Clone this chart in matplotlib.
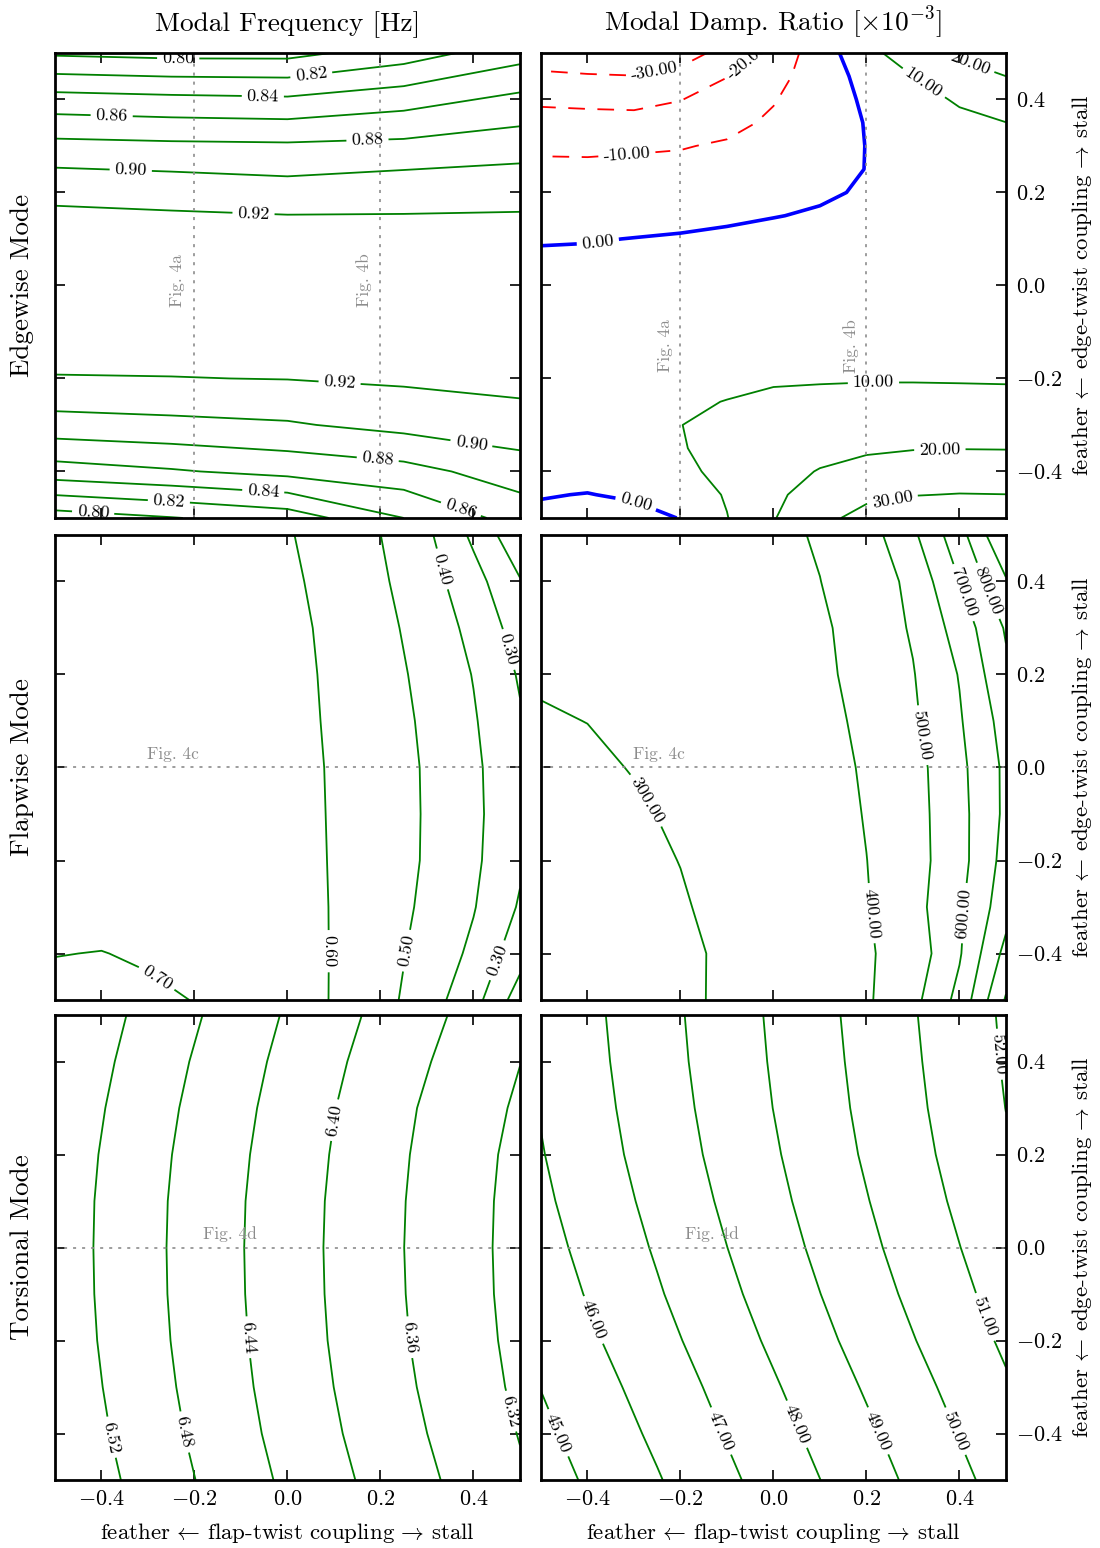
import numpy as np
import matplotlib
matplotlib.use("Agg")
import matplotlib.pyplot as plt

plt.rcParams['font.family'] = 'serif'
plt.rcParams['font.serif'] = ['cmr10']
plt.rcParams['mathtext.fontset'] = 'cm'
plt.rcParams['axes.formatter.use_mathtext'] = True
plt.rcParams['axes.unicode_minus'] = True
plt.rcParams['lines.scale_dashes'] = False
plt.rcParams['lines.dashed_pattern'] = [12.0, 9.0]

# grids (coupling coefficients)
x5 = [-0.5, -0.25, 0.0, 0.25, 0.5]
x11 = [-0.5, -0.4, -0.3, -0.2, -0.1, 0.0, 0.1, 0.2, 0.3, 0.4, 0.5]
y11 = [-0.5, -0.4, -0.3, -0.2, -0.1, 0.0, 0.1, 0.2, 0.3, 0.4, 0.5]
y18 = [-0.5, -0.45, -0.4, -0.35, -0.3, -0.25, -0.2, -0.1, 0.0, 0.1,
       0.15, 0.2, 0.25, 0.3, 0.35, 0.4, 0.45, 0.5]

# edgewise mode, frequency [Hz]  (rows = y11, cols = x5)
edge_freq = [
    [0.790, 0.799, 0.809, 0.840, 0.868],
    [0.851, 0.858, 0.866, 0.873, 0.890],
    [0.892, 0.895, 0.898, 0.906, 0.912],
    [0.919, 0.9195, 0.9205, 0.923, 0.926],
    [0.931, 0.931, 0.932, 0.931, 0.929],
    [0.934, 0.935, 0.936, 0.932, 0.931],
    [0.930, 0.931, 0.932, 0.927, 0.927],
    [0.916, 0.913, 0.909, 0.914, 0.915],
    [0.886, 0.884, 0.883, 0.885, 0.891],
    [0.848, 0.845, 0.843, 0.852, 0.865],
    [0.797, 0.794, 0.794, 0.810, 0.832],
]
edge_freq_levels = [0.80, 0.82, 0.84, 0.86, 0.88, 0.90, 0.92]

# edgewise mode, damping ratio [1e-3]  (rows = y18, cols = x11)
edge_damp = [
    [-2.0, -4.3, -3.3, 0.3, 9.7, 19.5, 27.5, 33.0, 36.0, 35.5, 35.0],
    [0.5, -0.3, 1.3, 4.5, 10.8, 18.0, 24.5, 28.0, 29.7, 30.3, 30.1],
    [3.0, 3.5, 5.0, 8.0, 12.4, 16.6, 20.5, 22.4, 24.4, 24.6, 24.6],
    [5.2, 5.6, 6.8, 9.7, 11.6, 14.6, 17.0, 19.0, 19.6, 19.8, 19.7],
    [6.5, 7.0, 8.0, 9.95, 11.0, 12.8, 14.0, 15.4, 15.0, 15.0, 14.8],
    [6.7, 7.1, 7.9, 9.4, 10.1, 11.2, 11.8, 12.4, 12.4, 12.3, 12.1],
    [6.5, 7.0, 7.5, 8.3, 9.0, 9.3, 9.4, 9.5, 9.5, 9.4, 9.3],
    [5.5, 6.0, 6.5, 7.0, 7.8, 8.3, 8.5, 8.6, 8.6, 8.6, 8.4],
    [3.5, 3.8, 4.2, 4.6, 5.2, 5.7, 6.0, 6.3, 6.6, 7.0, 7.3],
    [-0.6, -0.4, 0.15, 0.7, 1.4, 1.9, 2.0, 3.5, 4.5, 5.0, 5.2],
    [-3.2, -3.0, -2.6, -2.1, -1.2, -0.2, 0.6, 2.0, 3.7, 4.5, 5.1],
    [-5.8, -5.6, -4.5, -4.9, -3.8, -2.3, -0.8, 0.6, 3.0, 4.0, 5.0],
    [-8.5, -8.6, -8.1, -7.7, -6.4, -4.4, -1.8, 0.1, 2.5, 4.0, 5.2],
    [-11.2, -11.3, -11.0, -10.5, -9.0, -6.4, -2.7, 0.1, 2.0, 4.0, 5.5],
    [-16.8, -17.1, -17.1, -15.6, -12.5, -8.5, -3.5, 0.3, 3.9, 7.4, 9.9],
    [-21.5, -22.0, -22.5, -20.3, -15.5, -10.6, -4.3, 1.2, 5.9, 11.3, 14.9],
    [-28.4, -29.3, -29.8, -27.2, -20.3, -13.2, -5.0, 3.0, 10.0, 15.0, 20.0],
    [-35.3, -36.5, -37.0, -34.0, -27.0, -16.0, -5.2, 7.2, 15.2, 22.0, 27.0],
]
edge_damp_levels = [-30, -20, -10, 0, 10, 20, 30]

# flapwise mode, frequency [Hz]  (rows = y11, cols = x11)
flap_freq = [
    [0.712, 0.713, 0.708, 0.699, 0.675, 0.645, 0.594, 0.536, 0.444, 0.338, 0.150],
    [0.699, 0.701, 0.695, 0.683, 0.665, 0.640, 0.595, 0.537, 0.469, 0.379, 0.240],
    [0.687, 0.684, 0.678, 0.668, 0.655, 0.637, 0.595, 0.542, 0.484, 0.406, 0.290],
    [0.675, 0.670, 0.664, 0.657, 0.647, 0.634, 0.594, 0.544, 0.492, 0.419, 0.315],
    [0.667, 0.663, 0.658, 0.652, 0.643, 0.632, 0.593, 0.544, 0.493, 0.423, 0.322],
    [0.660, 0.657, 0.653, 0.648, 0.640, 0.630, 0.592, 0.543, 0.492, 0.420, 0.320],
    [0.655, 0.653, 0.650, 0.645, 0.638, 0.627, 0.589, 0.540, 0.486, 0.409, 0.310],
    [0.650, 0.649, 0.647, 0.642, 0.635, 0.627, 0.585, 0.535, 0.476, 0.396, 0.290],
    [0.645, 0.644, 0.642, 0.638, 0.631, 0.625, 0.579, 0.527, 0.461, 0.373, 0.256],
    [0.640, 0.639, 0.637, 0.633, 0.626, 0.618, 0.568, 0.514, 0.441, 0.338, 0.207],
    [0.635, 0.634, 0.632, 0.628, 0.621, 0.6075, 0.558, 0.5006, 0.419, 0.280, 0.123],
]
flap_freq_levels = [0.20, 0.30, 0.40, 0.50, 0.60, 0.70]

# flapwise mode, damping ratio [1e-3]  (rows = y11, cols = x11)
flap_damp = [
    [258, 264, 274, 288, 310, 330, 350, 388, 470, 630, 910],
    [262, 268, 277, 290, 308, 330, 352, 390, 440, 590, 830],
    [266, 272, 281, 295, 315, 332, 353, 394, 465, 582, 760],
    [272, 278, 287, 301, 317, 333, 355, 399, 460, 565, 735],
    [280, 285, 294, 307, 320, 335, 357, 405, 462, 568, 720],
    [288, 292, 302, 311, 322, 337, 360, 412, 465, 575, 720],
    [296, 300.5, 307, 315, 326, 342, 365, 425, 485, 590, 740],
    [305, 310, 316, 324, 335, 350, 377, 437, 495, 605, 780],
    [310, 316, 323, 331, 342, 358, 385, 440, 510, 640, 810],
    [320, 326, 333, 341, 352, 368, 399, 441, 525, 700, 890],
    [330, 335, 342, 350, 362, 380, 408, 455, 581, 762, 1000],
]
flap_damp_levels = [300, 400, 500, 600, 700, 800, 900]

# torsional mode, frequency [Hz]  (rows = y11, cols = x5)
tors_freq = [
    [6.556, 6.4925, 6.4328, 6.3766, 6.3244],
    [6.550, 6.4868, 6.4267, 6.3705, 6.3185],
    [6.546, 6.4826, 6.4225, 6.3659, 6.3133],
    [6.543, 6.4796, 6.4197, 6.3626, 6.3101],
    [6.5415, 6.4779, 6.4183, 6.3609, 6.3082],
    [6.541, 6.4774, 6.4178, 6.3602, 6.3076],
    [6.5415, 6.4781, 6.4185, 6.3609, 6.3082],
    [6.5436, 6.4804, 6.4208, 6.3628, 6.3101],
    [6.5474, 6.4841, 6.4244, 6.3659, 6.3145],
    [6.5525, 6.4893, 6.4295, 6.3722, 6.3206],
    [6.558, 6.4962, 6.4361, 6.3797, 6.3276],
]
tors_freq_levels = [6.32, 6.36, 6.40, 6.44, 6.48, 6.52]

# torsional mode, damping ratio [1e-3]  (rows = y11, cols = x5)
tors_damp = [
    [44.56, 45.93, 47.40, 48.88, 50.39],
    [44.79, 46.18, 47.65, 49.13, 50.64],
    [45.02, 46.42, 47.90, 49.39, 50.89],
    [45.26, 46.68, 48.16, 49.66, 51.15],
    [45.48, 46.91, 48.39, 49.89, 51.38],
    [45.66, 47.10, 48.59, 50.09, 51.58],
    [45.82, 47.27, 48.76, 50.26, 51.76],
    [45.95, 47.42, 48.90, 50.41, 51.90],
    [46.05, 47.52, 49.01, 50.51, 52.01],
    [46.12, 47.60, 49.08, 50.58, 52.08],
    [46.18, 47.65, 49.13, 50.64, 52.13],
]
tors_damp_levels = [45, 46, 47, 48, 49, 50, 51, 52]

GREEN = (0.0, 0.5, 0.0)
LW = 1.3
CLAB = 13

fig = plt.figure(figsize=(11, 15.48), dpi=100)
lefts = [0.05, 0.4918]
bottoms = [0.6654, 0.3540, 0.0439]
W, H = 0.4227, 0.3004

axes = [[fig.add_axes([lefts[c], bottoms[r], W, H]) for c in range(2)] for r in range(3)]

ticks = [-0.4, -0.2, 0.0, 0.2, 0.4]
for r in range(3):
    for c in range(2):
        ax = axes[r][c]
        ax.set_xlim(-0.5, 0.5)
        ax.set_ylim(-0.5, 0.5)
        ax.set_xticks(ticks)
        ax.set_yticks(ticks)
        ax.tick_params(direction='in', length=7, width=1.2, top=True, right=True,
                       left=True, bottom=True, labelsize=16,
                       labelleft=False, labelright=(c == 1),
                       labelbottom=(r == 2), pad=7)
        for s in ax.spines.values():
            s.set_linewidth(2.0)


def green_contour(ax, xs, ys, z, levels, label_pos):
    cs = ax.contour(xs, ys, np.array(z), levels=levels, colors=[GREEN],
                    linewidths=LW)
    ax.clabel(cs, fmt='%.2f', fontsize=CLAB, colors='k', inline=True,
              manual=label_pos)
    return cs


dot = (0, (2.2, 4.3))
fig_gray = '0.55'
FIGFS = 12.5

# --- Edgewise frequency
ax = axes[0][0]
green_contour(ax, x5, y11, edge_freq, edge_freq_levels,
              [(-0.235, 0.49), (0.051, 0.454), (-0.053, 0.408), (-0.378, 0.369),
               (0.172, 0.313), (-0.337, 0.25), (-0.073, 0.157),
               (0.112, -0.21), (0.396, -0.336), (0.194, -0.375), (0.376, -0.472),
               (-0.052, -0.44), (-0.255, -0.462), (-0.418, -0.489)])
for xv in (-0.2, 0.2):
    ax.axvline(xv, color=fig_gray, ls=dot, lw=1.2)
ax.text(-0.236, 0.011, 'Fig. 4a', rotation=90, color=fig_gray, fontsize=FIGFS,
        ha='center', va='center')
ax.text(0.165, 0.011, 'Fig. 4b', rotation=90, color=fig_gray, fontsize=FIGFS,
        ha='center', va='center')

# --- Edgewise damping
ax = axes[0][1]
cols = ['r' if v < 0 else ('b' if v == 0 else GREEN) for v in edge_damp_levels]
lws = [2.6 if v == 0 else LW for v in edge_damp_levels]
styles = ['dashed' if v < 0 else 'solid' for v in edge_damp_levels]
cs = ax.contour(x11, y18, np.array(edge_damp), levels=edge_damp_levels,
                colors=cols, linewidths=lws, linestyles=styles)
ax.clabel(cs, fmt='%.2f', fontsize=CLAB, colors='k', inline=True,
          manual=[(-0.256, 0.458), (-0.048, 0.472), (-0.315, 0.278),
                  (-0.377, 0.088), (-0.294, -0.463), (0.317, 0.426),
                  (0.42, 0.469), (0.215, -0.21), (0.358, -0.36), (0.256, -0.461)])
for xv in (-0.2, 0.2):
    ax.axvline(xv, color=fig_gray, ls=dot, lw=1.2)
ax.text(-0.233, -0.13, 'Fig. 4a', rotation=90, color=fig_gray, fontsize=FIGFS,
        ha='center', va='center')
ax.text(0.166, -0.13, 'Fig. 4b', rotation=90, color=fig_gray, fontsize=FIGFS,
        ha='center', va='center')

# --- Flapwise frequency
ax = axes[1][0]
green_contour(ax, x11, y11, flap_freq, flap_freq_levels,
              [(0.337, 0.428), (0.476, 0.254), (0.092, -0.395), (0.262, -0.395),
               (0.455, -0.416), (-0.268, -0.434)])
ax.axhline(0.0, color=fig_gray, ls=dot, lw=1.2)
ax.text(-0.247, 0.012, 'Fig. 4c', color=fig_gray, fontsize=FIGFS, ha='center', va='bottom')

# --- Flapwise damping
ax = axes[1][1]
green_contour(ax, x11, y11, flap_damp, flap_damp_levels,
              [(-0.274, -0.071), (0.213, -0.313), (0.335, 0.072), (0.407, -0.313),
               (0.414, 0.378), (0.457, 0.378)])
ax.axhline(0.0, color=fig_gray, ls=dot, lw=1.2)
ax.text(-0.246, 0.012, 'Fig. 4c', color=fig_gray, fontsize=FIGFS, ha='center', va='bottom')

# --- Torsional frequency
ax = axes[2][0]
green_contour(ax, x5, y11, tors_freq, tors_freq_levels,
              [(-0.375, -0.407), (-0.217, -0.396), (-0.085, -0.193), (0.101, 0.274),
               (0.262, -0.193), (0.476, -0.353)])
ax.axhline(0.0, color=fig_gray, ls=dot, lw=1.2)
ax.text(-0.124, 0.012, 'Fig. 4d', color=fig_gray, fontsize=FIGFS, ha='center', va='bottom')

# --- Torsional damping
ax = axes[2][1]
green_contour(ax, x5, y11, tors_damp, tors_damp_levels,
              [(-0.383, -0.154), (-0.457, -0.396), (-0.109, -0.393), (0.055, -0.378),
               (0.228, -0.393), (0.396, -0.393), (0.453, -0.15), (0.489, 0.416)])
ax.axhline(0.0, color=fig_gray, ls=dot, lw=1.2)
ax.text(-0.132, 0.012, 'Fig. 4d', color=fig_gray, fontsize=FIGFS, ha='center', va='bottom')

# titles and labels
axes[0][0].set_title('Modal Frequency [Hz]', fontsize=19.7, pad=16)
axes[0][1].set_title(r'Modal Damp. Ratio [$\times10^{-3}$]', fontsize=19.7, pad=16)

row_centers = [0.8156, 0.5045, 0.1941]
for name, yc in zip(['Edgewise Mode', 'Flapwise Mode', 'Torsional Mode'], row_centers):
    fig.text(22 / 1100, yc, name, rotation=90, fontsize=19.5, ha='center', va='center')
    fig.text(1082 / 1100, yc,
             r'feather$\,\leftarrow\,$edge-twist coupling$\,\rightarrow\,$stall',
             rotation=90, fontsize=16.5, ha='center', va='center')

for xc in [287.5 / 1100, 773 / 1100]:
    fig.text(xc, 1 - 1533 / 1548,
             r'feather$\,\leftarrow\,$flap-twist coupling$\,\rightarrow\,$stall',
             fontsize=16.5, ha='center', va='center')

fig.savefig('out.png', dpi=100)
